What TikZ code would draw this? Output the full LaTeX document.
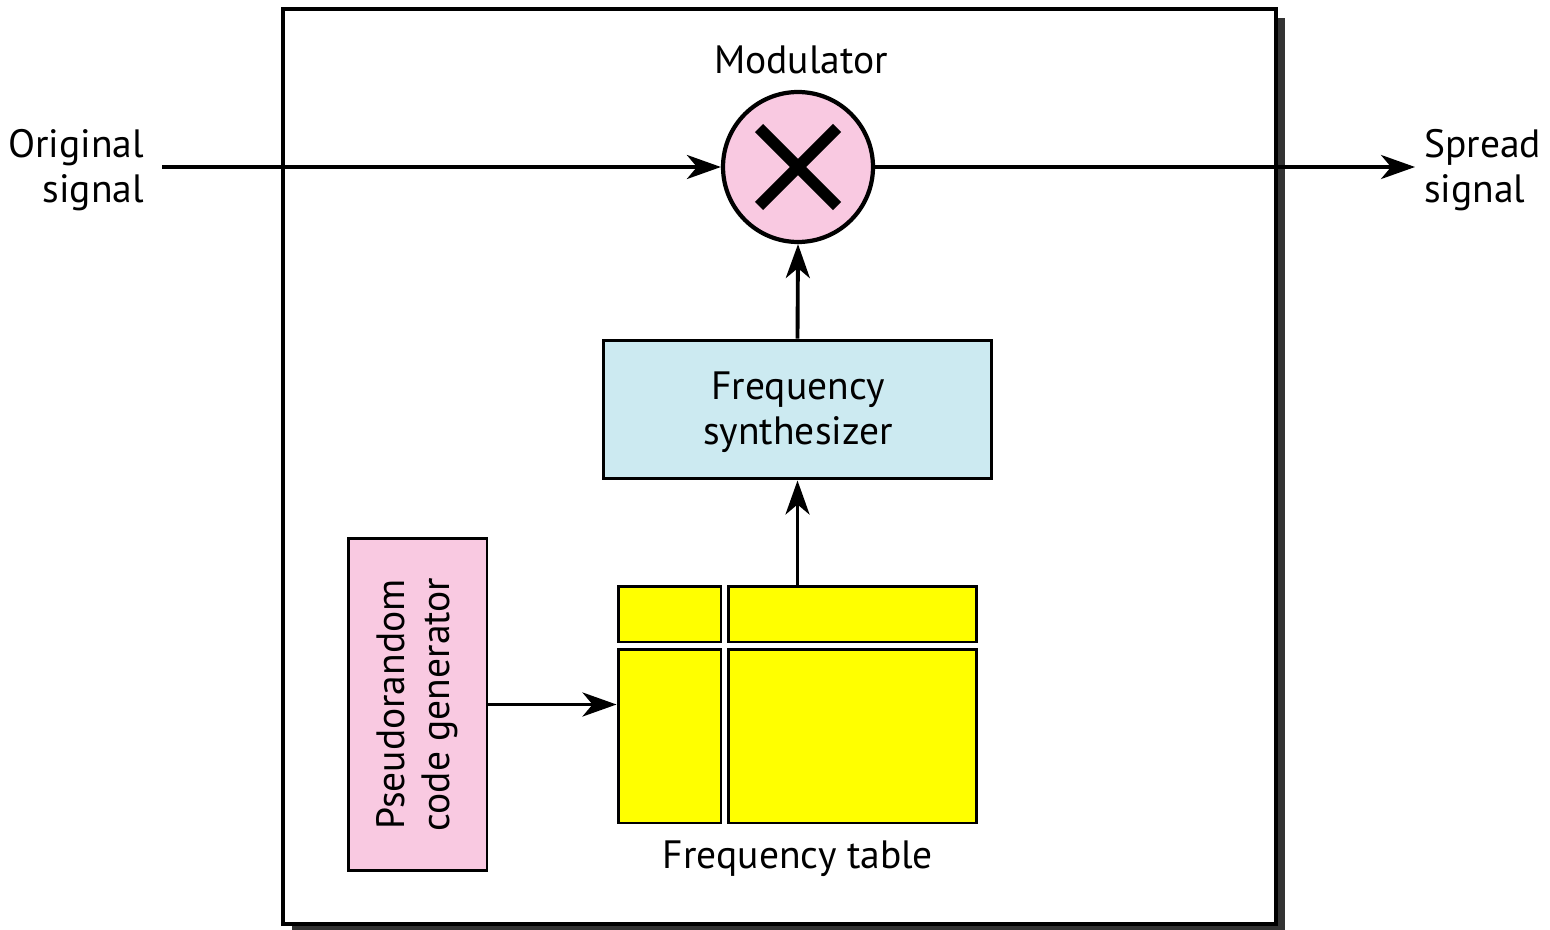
\documentclass[tikz,border=0pt]{standalone}
\usepackage{fontspec}
\setmainfont{PT Sans}
\usetikzlibrary{arrows.meta,positioning}
\definecolor{modpink}{HTML}{F9C9E1}
\definecolor{synthblue}{HTML}{CCEAF1}
\definecolor{tabyellow}{HTML}{FFFF00}
\definecolor{shadowgray}{HTML}{333333}
\begin{document}
\begin{tikzpicture}[x=0.02cm,y=-0.02cm,
    every node/.style={font=\fontsize{22.5}{25.8}\selectfont},
    sig/.style={-{Stealth[length=0.68cm,width=0.48cm,inset=0.2cm]}, line width=2.2pt},
    blk/.style={draw, line width=1.7pt, inner sep=0pt},
    cell/.style={blk, fill=tabyellow}]
          \useasboundingbox (0,0) rectangle (1550,929);
          % outer box with shadow
          \fill[shadowgray] (292,18) rectangle (1285,933);
          \draw[line width=1.8pt, fill=white] (283,9) rectangle (1276,924);
          % modulator
          \node[blk, circle, line width=2.4pt, fill=modpink, minimum size=3cm] (mod) at (798,167) {};
          \draw[line width=6.5pt] (759,128) -- (837,206);
          \draw[line width=6.5pt] (837,128) -- (759,206);
          \node (modlbl) at (801,60) {Modulator};
          % in and out
          \node[anchor=east, align=right] (orig) at (150,170) {Original\\signal};
          \node[anchor=west, align=left] (spread) at (1418,170) {Spread\\signal};
          \coordinate (inpt) at (162,167);
          \coordinate (outpt) at (1415,167);
          % synthesizer
          \node[blk, fill=synthblue, minimum width=7.78cm, minimum height=2.78cm] (synth) at (797.5,409.5) {};
          \node[align=center] (synthlbl) at (798,412) {Frequency\\synthesizer};
          % frequency table
          \node[cell, minimum width=2.06cm, minimum height=1.12cm] (tblTL) at (669.5,614) {};
          \node[cell, minimum width=4.98cm, minimum height=1.12cm] (tblTR) at (852.5,614) {};
          \node[cell, minimum width=2.06cm, minimum height=3.48cm] (tblBL) at (669.5,736) {};
          \node[cell, minimum width=4.98cm, minimum height=3.48cm] (tblBR) at (852.5,736) {};
          \node (tbllbl) at (798,859) {Frequency table};
          % pseudorandom code generator
          \node[blk, fill=modpink, minimum width=2.78cm, minimum height=6.66cm] (prng) at (417.5,704.5) {};
          \node[rotate=90, align=center] (prnglbl) at (prng.center) {Pseudorandom\\code generator};
          % connectors
          \draw[sig] (inpt) -- (mod.west);
          \draw[sig] (mod.east) -- (outpt);
          \draw[sig] (synth.north) -- (mod.south);
          \draw[sig] (synth |- tblTR.north) -- (synth.south);
          \draw[sig] (prng.east) -- (prng.east -| tblBL.west);
      \end{tikzpicture}
\end{document}
